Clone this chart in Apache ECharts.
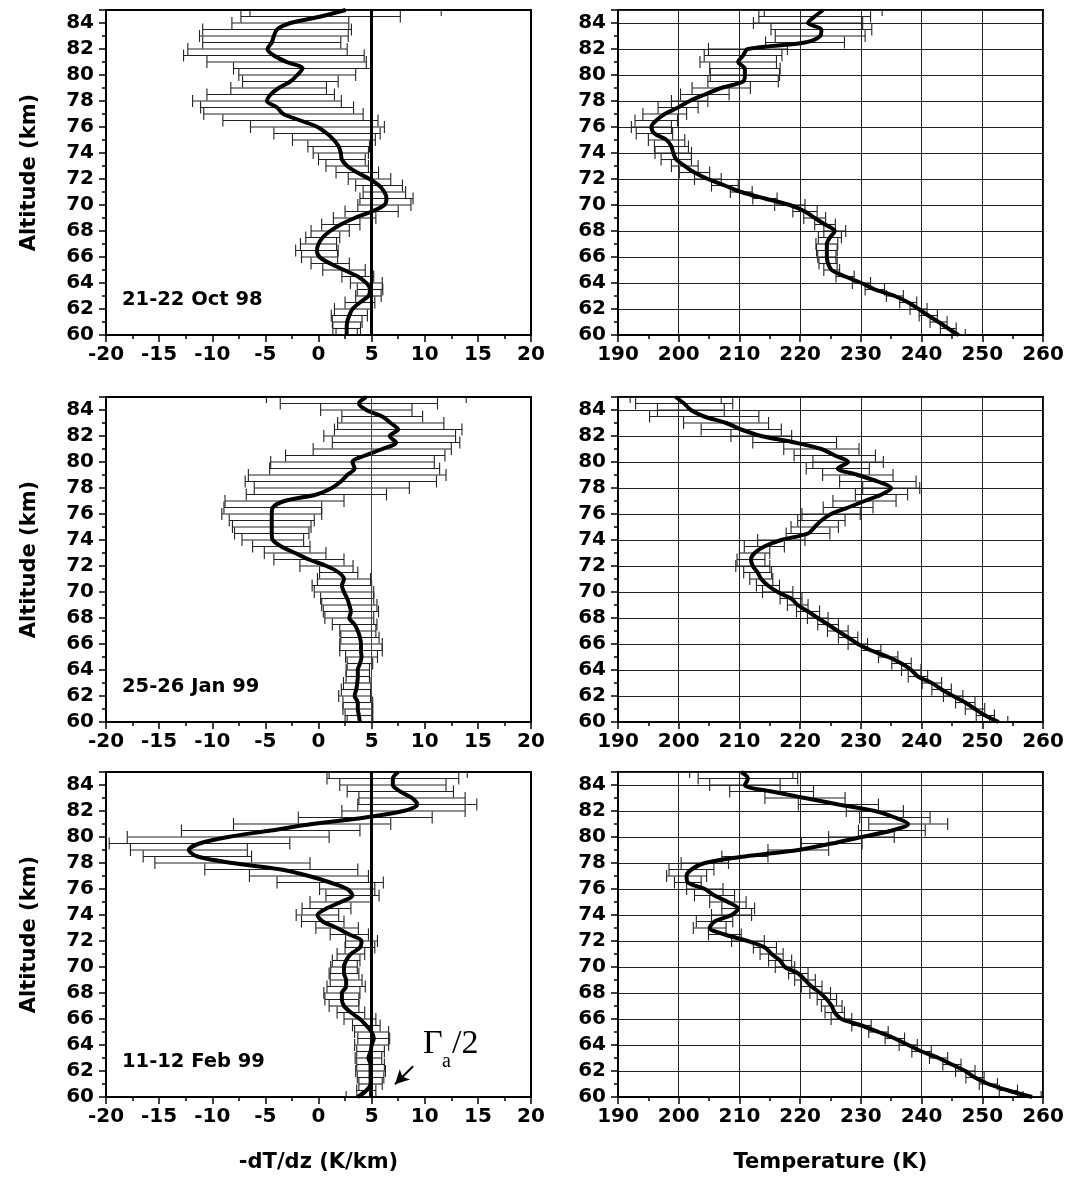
<!DOCTYPE html>
<html>
<head>
<meta charset="utf-8">
<script src="https://cdn.jsdelivr.net/npm/echarts@6/dist/echarts.min.js"></script>
<style>
  html, body { margin: 0; padding: 0; background: #fff; }
  #chart { width: 1065px; height: 1185px; }
</style>
</head>
<body>
<div id="chart"></div>
<script>
// altitude levels (km), bottom to top
const altitudes = [60, 60.5, 61, 61.5, 62, 62.5, 63, 63.5, 64, 64.5, 65, 65.5, 66, 66.5, 67, 67.5, 68, 68.5, 69, 69.5,
  70, 70.5, 71, 71.5, 72, 72.5, 73, 73.5, 74, 74.5, 75, 75.5, 76, 76.5, 77, 77.5, 78, 78.5, 79, 79.5,
  80, 80.5, 81, 81.5, 82, 82.5, 83, 83.5, 84, 84.5, 85]

// -dT/dz (K/km) and its error half-width
const oct98Lapse = [2.65, 2.65, 2.7, 2.9, 3.2, 3.9, 4.7, 4.85, 4.5, 3.7, 2.4, 1.1, 0.1, -0.15, 0.0, 0.4, 1.1, 2.1, 3.4, 5.0,
  6.2, 6.4, 6.2, 5.7, 4.8, 3.65, 2.7, 2.2, 2.1, 1.9, 1.45, 0.8, -0.1, -1.7, -3.3, -3.9, -4.85, -4.5, -3.75, -2.65,
  -2.0, -1.5, -3.0, -4.2, -4.8, -4.4, -4.2, -3.9, -2.65, 0.2, 2.55]
const oct98LapseErr = [1.0, 1.3, 1.4, 1.7, 1.7, 1.4, 1.2, 1.2, 1.5, 1.5, 2.0, 1.8, 1.7, 2.0, 1.7, 1.6, 1.8, 1.8, 2.0, 2.5,
  2.5, 2.5, 2.0, 2.2, 2.0, 2.0, 2.0, 2.2, 2.6, 2.9, 3.9, 5.0, 6.3, 7.3, 7.5, 7.2, 7.0, 6.0, 4.5, 4.5,
  5.5, 6.5, 7.5, 8.5, 7.5, 6.5, 7.0, 7.0, 5.5, 7.5, 9.0]
const jan99Lapse = [3.9, 3.8, 3.7, 3.7, 3.4, 3.55, 3.65, 3.7, 3.7, 3.9, 4.05, 4.0, 4.0, 3.9, 3.7, 3.4, 2.9, 3.05, 2.9, 2.7,
  2.4, 2.2, 2.4, 1.9, 0.75, -0.9, -2.2, -3.5, -4.3, -4.4, -4.4, -4.4, -4.4, -4.3, -3.2, -0.2, 1.25, 2.1, 2.7, 3.4,
  3.2, 4.4, 6.0, 7.3, 6.7, 7.5, 6.8, 6.0, 4.5, 3.8, 4.5]
const jan99LapseErr = [1.2, 1.3, 1.4, 1.4, 1.5, 1.4, 1.3, 1.1, 1.1, 1.2, 1.5, 2.0, 2.0, 1.8, 1.7, 2.1, 2.3, 2.6, 2.6, 2.5,
  2.8, 2.8, 2.5, 1.8, 2.5, 3.3, 2.9, 2.7, 2.9, 3.5, 3.7, 4.0, 4.7, 4.6, 5.6, 6.6, 7.3, 9.0, 9.3, 8.0,
  7.7, 7.5, 6.5, 6.0, 6.2, 6.0, 5.0, 3.8, 4.3, 7.4, 9.4]
const feb99Lapse = [3.7, 4.5, 4.9, 4.9, 4.9, 4.9, 4.7, 4.9, 5.0, 5.2, 5.0, 4.5, 3.9, 3.05, 2.4, 2.2, 2.2, 2.6, 2.6, 2.4,
  2.4, 2.6, 3.05, 3.9, 4.05, 2.9, 1.75, 0.4, -0.1, 0.75, 2.1, 3.2, 2.7, 1.1, -0.9, -3.5, -8.1, -11.4, -12.2, -11.2,
  -8.5, -4.5, -0.6, 4.4, 8.0, 9.3, 8.8, 7.7, 7.0, 7.0, 7.5]
const feb99LapseErr = [1.1, 0.9, 1.1, 1.25, 1.4, 1.3, 1.25, 1.3, 1.6, 1.5, 1.6, 1.3, 1.5, 1.3, 1.4, 1.6, 1.7, 1.8, 1.5, 1.4,
  1.25, 1.3, 1.3, 1.4, 1.5, 1.8, 2.0, 2.0, 2.0, 2.3, 2.9, 2.5, 2.6, 5.0, 5.6, 7.2, 7.3, 5.1, 5.5, 8.5,
  9.5, 8.4, 7.4, 6.3, 5.8, 5.6, 5.0, 5.0, 5.0, 6.2, 6.5]

// temperature (K) and its error half-width
const oct98Temp = [246.1, 244.4, 242.8, 241.1, 239.5, 237.8, 235.6, 232.3, 230.1, 227.4, 225.2, 224.6, 224.4, 224.4, 224.4, 224.9, 225.7, 224.1, 222.4, 220.8,
  218.3, 214.2, 210.3, 207.6, 204.8, 202.6, 201.0, 199.6, 199.1, 198.8, 198.0, 196.0, 195.5, 196.3, 197.7, 199.9, 201.8, 204.3, 207.0, 210.6,
  210.9, 210.9, 209.8, 210.6, 211.4, 220.8, 223.3, 223.5, 221.3, 222.4, 223.8]
const oct98TempErr = [1.1, 1.3, 1.4, 1.5, 1.4, 1.4, 1.4, 1.6, 1.5, 1.5, 1.3, 1.5, 1.5, 1.7, 1.8, 1.9, 1.8, 1.7, 1.8, 2.0,
  2.5, 2.0, 1.8, 2.2, 2.2, 2.5, 2.2, 2.5, 3.0, 2.8, 3.0, 3.0, 3.3, 3.5, 3.6, 3.3, 3.0, 4.0, 4.8, 5.8,
  5.7, 5.8, 6.3, 6.4, 6.5, 6.5, 7.4, 8.3, 9.0, 9.2, 9.7]
const jan99Temp = [252.7, 250.5, 248.8, 247.2, 245.2, 243.3, 241.7, 239.4, 238.3, 236.7, 234.5, 231.7, 229.5, 227.9, 226.2, 224.6, 222.9, 221.3, 219.6, 218.5,
  216.3, 214.7, 213.6, 213.0, 212.2, 211.9, 212.5, 214.1, 216.9, 221.3, 222.4, 223.5, 225.1, 227.9, 230.6, 233.4, 235.0, 232.8, 229.5, 226.2,
  227.9, 225.7, 223.5, 219.1, 213.6, 210.3, 207.8, 204.2, 202.0, 200.9, 199.5]
const jan99TempErr = [1.5, 1.5, 1.6, 1.6, 1.6, 1.6, 1.6, 1.6, 1.6, 1.6, 1.6, 1.6, 1.6, 1.6, 1.7, 1.7, 1.7, 1.9, 1.7, 1.8,
  2.5, 1.9, 1.9, 2.3, 2.8, 2.3, 2.5, 3.3, 3.9, 3.6, 3.9, 3.9, 4.8, 4.1, 5.2, 4.3, 4.7, 6.3, 5.8, 5.2,
  5.8, 6.7, 6.2, 6.9, 5.0, 6.6, 7.0, 9.0, 5.5, 8.0, 7.5]
const feb99Temp = [258.2, 254.3, 251.0, 248.8, 247.2, 245.0, 242.8, 240.0, 237.8, 235.6, 232.9, 230.1, 226.8, 225.7, 225.2, 224.4, 223.3, 221.9, 220.8, 219.7,
  217.5, 216.7, 215.3, 214.2, 211.4, 207.6, 205.1, 205.9, 208.7, 209.8, 208.1, 205.9, 204.3, 201.5, 201.3, 202.1, 204.3, 210.9, 219.7, 225.2,
  230.1, 235.1, 237.8, 235.6, 232.3, 226.3, 220.8, 215.3, 210.9, 211.4, 210.3]
const feb99TempErr = [1.5, 1.5, 1.5, 1.5, 1.6, 1.5, 1.5, 1.6, 1.5, 1.6, 1.6, 1.6, 1.7, 1.6, 1.7, 1.6, 1.7, 1.7, 1.7, 1.6,
  1.6, 1.9, 1.9, 1.9, 2.7, 2.7, 2.7, 3.0, 3.3, 2.7, 3.0, 3.3, 3.0, 2.2, 3.3, 3.7, 3.9, 3.8, 5.0, 5.0,
  5.4, 5.5, 6.5, 5.8, 4.7, 6.6, 6.6, 6.9, 5.8, 8.2, 8.5]

const dateLabels = ['21-22 Oct 98', '25-26 Jan 99', '11-12 Feb 99']
const halfAdiabat = 5          // Γa/2, K/km
const lapseRange = [-20, 20, 5]
const tempRange = [190, 260, 10]
const altRange = [60, 85, 2]
const arrowFrom = [8.9, 62.36] // Γa/2 arrow, data coords of bottom panel
const arrowTo = [7.2, 60.98]

const panels = [
  { lapse: oct98Lapse, lapseErr: oct98LapseErr, temp: oct98Temp, tempErr: oct98TempErr, refWidth: 3 },
  { lapse: jan99Lapse, lapseErr: jan99LapseErr, temp: jan99Temp, tempErr: jan99TempErr, refWidth: 1 },
  { lapse: feb99Lapse, lapseErr: feb99LapseErr, temp: feb99Temp, tempErr: feb99TempErr, refWidth: 3 }
]

const rowTops = [10, 397, 772]
const plotW = 425, plotH = 325, leftX = 106, rightX = 618
const BOLD = 'DejaVu Sans'

const chart = echarts.init(document.getElementById('chart'), null, { renderer: 'canvas' })

const grids = [], xAxes = [], yAxes = [], series = []

// horizontal error bar with end caps
function renderErr(params, api) {
  const y = api.value(2)
  const a = api.coord([api.value(0), y])
  const b = api.coord([api.value(1), y])
  const h = 6
  const st = { stroke: '#222', lineWidth: 1.1 }
  return {
    type: 'group',
    children: [
      { type: 'line', shape: { x1: a[0], y1: a[1], x2: b[0], y2: b[1] }, style: st },
      { type: 'line', shape: { x1: a[0], y1: a[1] - h, x2: a[0], y2: a[1] + h }, style: st },
      { type: 'line', shape: { x1: b[0], y1: b[1] - h, x2: b[0], y2: b[1] + h }, style: st }
    ]
  }
}

const tickLabel = { color: '#000', fontFamily: BOLD, fontWeight: 'bold', fontSize: 20 }
const axisLine = { show: true, onZero: false, lineStyle: { color: '#000', width: 2 } }
const axisTick = { show: true, inside: false, length: 7, lineStyle: { color: '#000', width: 1.5 } }
const minorTick = { show: true, splitNumber: 2, length: 4, lineStyle: { color: '#000', width: 1.5 } }

panels.forEach((p, r) => {
  const bottom = r === panels.length - 1
  ;[0, 1].forEach(c => {
    const gi = r * 2 + c
    const isLapse = c === 0
    const range = isLapse ? lapseRange : tempRange
    grids.push({
      left: isLapse ? leftX : rightX, top: rowTops[r], width: plotW, height: plotH,
      show: true, borderColor: '#000', borderWidth: 2, backgroundColor: 'transparent',
      outerBoundsMode: 'none'
    })
    xAxes.push({
      type: 'value', gridIndex: gi, min: range[0], max: range[1], interval: range[2],
      axisLine, axisTick, minorTick,
      axisLabel: Object.assign({ margin: 10, showMinLabel: true, showMaxLabel: true }, tickLabel),
      splitLine: { show: !isLapse, lineStyle: { color: '#222', width: 1 } },
      name: bottom ? (isLapse ? '-dT/dz (K/km)' : 'Temperature (K)') : '',
      nameLocation: 'middle', nameGap: 55,
      nameTextStyle: { color: '#000', fontFamily: BOLD, fontWeight: 'bold', fontSize: 21 }
    })
    yAxes.push({
      type: 'value', gridIndex: gi, min: altRange[0], max: altRange[1], interval: altRange[2],
      axisLine, axisTick, minorTick,
      axisLabel: Object.assign({ margin: 12, showMaxLabel: false }, tickLabel),
      splitLine: { show: !isLapse, lineStyle: { color: '#222', width: 1 } },
      name: isLapse ? 'Altitude (km)' : '',
      nameLocation: 'middle', nameGap: 66, nameRotate: 90,
      nameTextStyle: { color: '#000', fontFamily: BOLD, fontWeight: 'bold', fontSize: 21 }
    })

    const vals = isLapse ? p.lapse : p.temp
    const errs = isLapse ? p.lapseErr : p.tempErr
    series.push({
      type: 'custom', xAxisIndex: gi, yAxisIndex: gi, clip: true, z: 2,
      data: altitudes.map((a, i) => [vals[i] - errs[i], vals[i] + errs[i], a]),
      encode: { x: [0, 1], y: 2 },
      renderItem: renderErr
    })

    const line = {
      type: 'line', xAxisIndex: gi, yAxisIndex: gi, clip: true, z: 4,
      data: altitudes.map((a, i) => [vals[i], a]),
      showSymbol: false, symbol: 'none', smooth: 0.3,
      lineStyle: { color: '#000', width: 4 }
    }
    if (isLapse) {
      const mlData = [{ xAxis: halfAdiabat, lineStyle: { color: p.refWidth > 1 ? '#000' : '#444', width: p.refWidth, type: 'solid' } }]
      if (bottom) {
        mlData.push([
          { coord: arrowFrom, symbol: 'none', lineStyle: { color: '#000', width: 2, type: 'solid' } },
          { coord: arrowTo, symbol: 'arrow', symbolSize: [11, 14] }
        ])
      }
      line.markLine = { silent: true, symbol: 'none', label: { show: false }, data: mlData, z: 5 }
    }
    series.push(line)
  })
})

const graphics = dateLabels.map((t, r) => ({
  type: 'text', left: leftX + 16, top: rowTops[r] + 280,
  style: { text: t, font: 'bold 19.5px "DejaVu Sans", sans-serif', fill: '#000' }
}))
graphics.push(
  { type: 'text', left: 423, top: 1027, style: { text: 'Γ', font: '34px "Liberation Serif", serif', fill: '#000' } },
  { type: 'text', left: 442, top: 1052, style: { text: 'a', font: '20px "Liberation Serif", serif', fill: '#000' } },
  { type: 'text', left: 452, top: 1027, style: { text: '/2', font: '34px "Liberation Serif", serif', fill: '#000' } }
)

chart.setOption({
  animation: false,
  backgroundColor: '#fff',
  grid: grids,
  xAxis: xAxes,
  yAxis: yAxes,
  series,
  graphic: graphics
})
</script>
</body>
</html>
